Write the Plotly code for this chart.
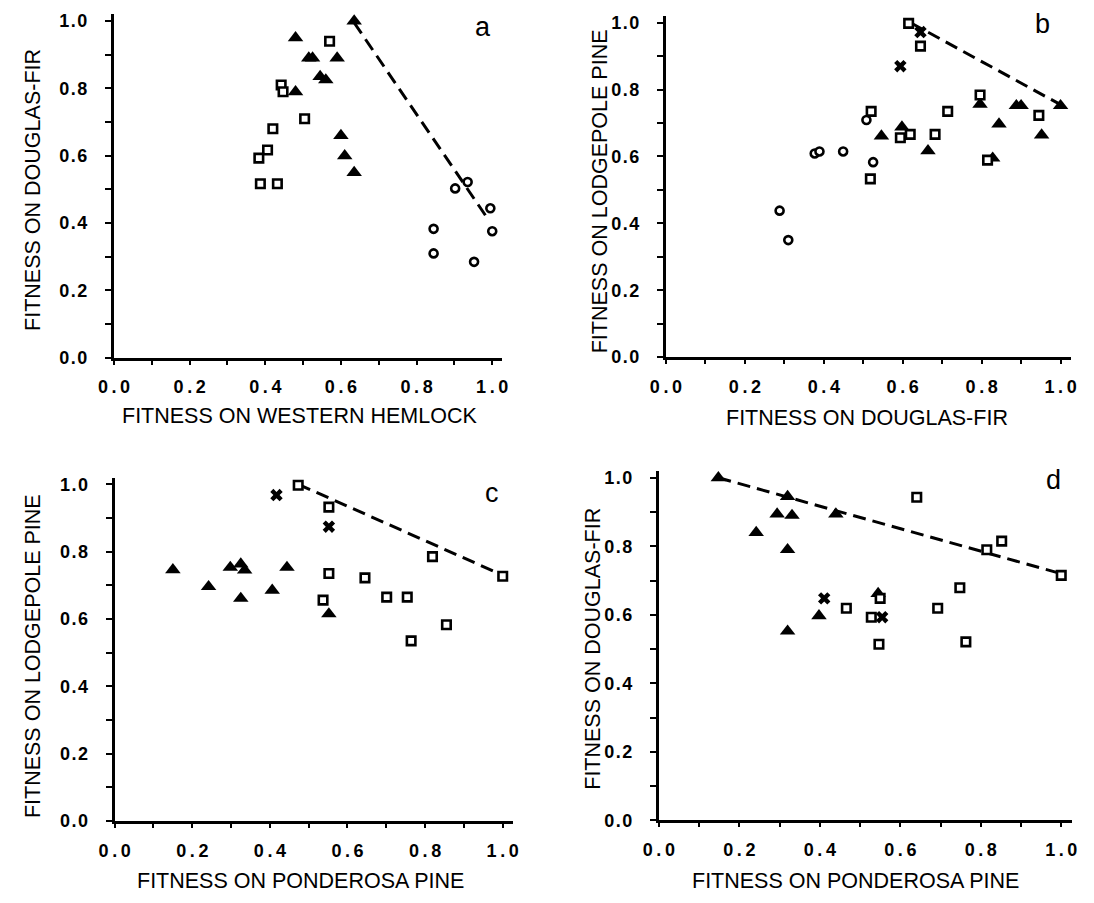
import plotly.graph_objects as go

W, H = 1094, 903

# ---------------- data ----------------
# panel a: x = fitness on western hemlock, y = fitness on Douglas-fir
a_tri_x = [0.635, 0.48, 0.515, 0.525, 0.59, 0.545, 0.56, 0.48, 0.60, 0.61, 0.635]
a_tri_y = [1.0, 0.95, 0.89, 0.89, 0.89, 0.835, 0.825, 0.79, 0.66, 0.60, 0.55]
a_sq_x = [0.57, 0.442, 0.447, 0.42, 0.504, 0.406, 0.383, 0.387, 0.432]
a_sq_y = [0.94, 0.81, 0.79, 0.68, 0.71, 0.617, 0.593, 0.517, 0.517]
a_ci_x = [0.845, 0.845, 0.902, 0.935, 0.995, 1.0, 0.952]
a_ci_y = [0.383, 0.31, 0.503, 0.522, 0.444, 0.376, 0.285]
a_line_x = [0.635, 0.99]
a_line_y = [0.995, 0.41]

# panel b: x = fitness on Douglas-fir, y = fitness on lodgepole pine
b_tri_x = [0.546, 0.598, 0.664, 0.796, 0.828, 0.844, 0.888, 0.90, 0.952, 1.0]
b_tri_y = [0.661, 0.688, 0.617, 0.756, 0.595, 0.697, 0.752, 0.752, 0.664, 0.752]
b_sq_x = [0.615, 0.645, 0.52, 0.518, 0.594, 0.619, 0.682, 0.714, 0.796, 0.815, 0.945]
b_sq_y = [0.998, 0.93, 0.735, 0.533, 0.656, 0.666, 0.666, 0.735, 0.784, 0.589, 0.723]
b_ci_x = [0.377, 0.389, 0.449, 0.508, 0.525, 0.288, 0.31]
b_ci_y = [0.609, 0.615, 0.615, 0.709, 0.583, 0.438, 0.35]
b_x_x = [0.594, 0.645]
b_x_y = [0.87, 0.972]
b_line_x = [0.62, 1.0]
b_line_y = [1.0, 0.755]

# panel c: x = fitness on ponderosa pine, y = fitness on lodgepole pine
c_tri_x = [0.15, 0.242, 0.298, 0.325, 0.335, 0.325, 0.406, 0.444, 0.552]
c_tri_y = [0.746, 0.696, 0.753, 0.763, 0.745, 0.661, 0.685, 0.753, 0.615]
c_sq_x = [0.473, 0.552, 0.552, 0.537, 0.645, 0.701, 0.754, 0.764, 0.819, 0.855, 1.0]
c_sq_y = [0.997, 0.932, 0.735, 0.656, 0.722, 0.665, 0.665, 0.535, 0.785, 0.583, 0.727]
c_x_x = [0.417, 0.552]
c_x_y = [0.968, 0.874]
c_line_x = [0.473, 1.0]
c_line_y = [1.0, 0.73]

# panel d: x = fitness on ponderosa pine, y = fitness on Douglas-fir
d_tri_x = [0.148, 0.32, 0.294, 0.331, 0.44, 0.242, 0.32, 0.398, 0.32, 0.545]
d_tri_y = [1.0, 0.945, 0.894, 0.89, 0.894, 0.84, 0.79, 0.597, 0.552, 0.662]
d_sq_x = [0.641, 0.852, 0.815, 1.0, 0.748, 0.693, 0.466, 0.528, 0.55, 0.547, 0.763]
d_sq_y = [0.943, 0.815, 0.79, 0.715, 0.679, 0.619, 0.619, 0.593, 0.648, 0.514, 0.521]
d_x_x = [0.411, 0.555]
d_x_y = [0.648, 0.593]
d_line_x = [0.148, 1.0]
d_line_y = [1.0, 0.72]

tick_vals = [0.0, 0.2, 0.4, 0.6, 0.8, 1.0]
tick_labels = ["0.0", "0.2", "0.4", "0.6", "0.8", "1.0"]
minor_vals = [0.1, 0.3, 0.5, 0.7, 0.9]

panel_letters = ["a", "b", "c", "d"]
x_titles = ["FITNESS ON WESTERN HEMLOCK", "FITNESS ON DOUGLAS-FIR",
            "FITNESS ON PONDEROSA PINE", "FITNESS ON PONDEROSA PINE"]
y_titles = ["FITNESS ON DOUGLAS-FIR", "FITNESS ON LODGEPOLE PINE",
            "FITNESS ON LODGEPOLE PINE", "FITNESS ON DOUGLAS-FIR"]

# ---------------- layout geometry (pixels) ----------------
# (x0 px, px per unit, y0 px (value 0), px per unit)
geo = [
    (100.0, 386.0, 360.0, 341.7),
    (663.3, 402.7, 359.3, 339.3),
    (100.7, 396.0, 830.0, 341.7),
    (656.0, 410.7, 829.3, 347.6),
]
XMAX, YMAX = 1.027, 1.02

FONT = "Liberation Sans, Arial, Helvetica, sans-serif"
xt_text = ["<b>" + t.replace(".", "\u2009.\u2009") + "</b>" for t in tick_labels]
yt_text = ["<b>" + t.replace(".", "\u200a.\u200a") + "</b>" for t in tick_labels]

fig = go.Figure()

panels = [
    (a_tri_x, a_tri_y, a_sq_x, a_sq_y, a_ci_x, a_ci_y, [], [], a_line_x, a_line_y),
    (b_tri_x, b_tri_y, b_sq_x, b_sq_y, b_ci_x, b_ci_y, b_x_x, b_x_y, b_line_x, b_line_y),
    (c_tri_x, c_tri_y, c_sq_x, c_sq_y, [], [], c_x_x, c_x_y, c_line_x, c_line_y),
    (d_tri_x, d_tri_y, d_sq_x, d_sq_y, [], [], d_x_x, d_x_y, d_line_x, d_line_y),
]

for i, p in enumerate(panels):
    tx, ty, sx, sy, cx, cy, xx, xy, lx, ly = p
    sfx = "" if i == 0 else str(i + 1)
    xa, ya = "x" + sfx, "y" + sfx
    fig.add_trace(go.Scatter(x=lx, y=ly, mode="lines", xaxis=xa, yaxis=ya,
                             line=dict(color="black", width=3, dash="13px,7px"),
                             showlegend=False, hoverinfo="skip"))
    fig.add_trace(go.Scatter(x=tx, y=ty, mode="markers", xaxis=xa, yaxis=ya,
                             marker=dict(symbol="triangle-up", size=13.5, color="black",
                                         line=dict(width=0)),
                             showlegend=False, cliponaxis=False))
    fig.add_trace(go.Scatter(x=sx, y=sy, mode="markers", xaxis=xa, yaxis=ya,
                             marker=dict(symbol="square", size=8.5, color="white",
                                         line=dict(width=2.6, color="black")),
                             showlegend=False, cliponaxis=False))
    if cx:
        fig.add_trace(go.Scatter(x=cx, y=cy, mode="markers", xaxis=xa, yaxis=ya,
                                 marker=dict(symbol="circle", size=8, color="white",
                                             line=dict(width=2.6, color="black")),
                                 showlegend=False, cliponaxis=False))
    if xx:
        fig.add_trace(go.Scatter(x=xx, y=xy, mode="markers", xaxis=xa, yaxis=ya,
                                 marker=dict(symbol="x", size=11, color="black",
                                             line=dict(width=0)),
                                 showlegend=False, cliponaxis=False))

    x0, xs, y0, ys = geo[i]
    xdom = [x0 / W, (x0 + xs * XMAX) / W]
    ydom = [1 - y0 / H, 1 - (y0 - ys * YMAX) / H]
    common = dict(showline=True, linewidth=3, linecolor="black", showgrid=False,
                  zeroline=False, ticks="outside", tickwidth=2.2, tickcolor="black",
                  tickvals=tick_vals, fixedrange=True,
                  tickfont=dict(family=FONT, size=18, color="black"))
    fig.layout["xaxis" + sfx] = dict(common, domain=xdom, range=[0, XMAX], anchor=ya,
                                     ticktext=xt_text, ticklen=4, ticklabelstandoff=7,
                                     minor=dict(tickvals=minor_vals, ticks="outside",
                                                ticklen=4, tickwidth=2.2, tickcolor="black"))
    fig.layout["yaxis" + sfx] = dict(common, domain=ydom, range=[0, YMAX], anchor=xa,
                                     ticktext=yt_text, ticklen=6, ticklabelstandoff=14,
                                     minor=dict(tickvals=minor_vals, ticks="outside",
                                                ticklen=6, tickwidth=2.2, tickcolor="black"))

# axis titles and panel letters as annotations (pixel positions -> paper)
xt_pos = [(289, 419), (868, 421), (290, 891), (857, 891)]
yt_pos = [(18, 190), (596, 191), (18, 663), (588, 655)]
letter_pos = [(477, 24), (1048, 21), (486, 497), (1059, 484)]
ann = []
for i in range(4):
    px, py = xt_pos[i]
    ann.append(dict(text=x_titles[i], x=px / W, y=1 - py / H, xref="paper", yref="paper",
                    showarrow=False, xanchor="center", yanchor="middle",
                    font=dict(family=FONT, size=21.5, color="black")))
    px, py = yt_pos[i]
    ann.append(dict(text=y_titles[i], x=px / W, y=1 - py / H, xref="paper", yref="paper",
                    showarrow=False, xanchor="center", yanchor="middle", textangle=-90,
                    font=dict(family=FONT, size=21.5, color="black")))
    px, py = letter_pos[i]
    ann.append(dict(text=panel_letters[i], x=px / W, y=1 - py / H, xref="paper", yref="paper",
                    showarrow=False, xanchor="center", yanchor="middle",
                    font=dict(family=FONT, size=27, color="black")))

fig.update_layout(width=W, height=H, margin=dict(l=0, r=0, t=0, b=0),
                  paper_bgcolor="white", plot_bgcolor="white", annotations=ann,
                  showlegend=False)

fig.write_html("out.html", config={"displayModeBar": False})
